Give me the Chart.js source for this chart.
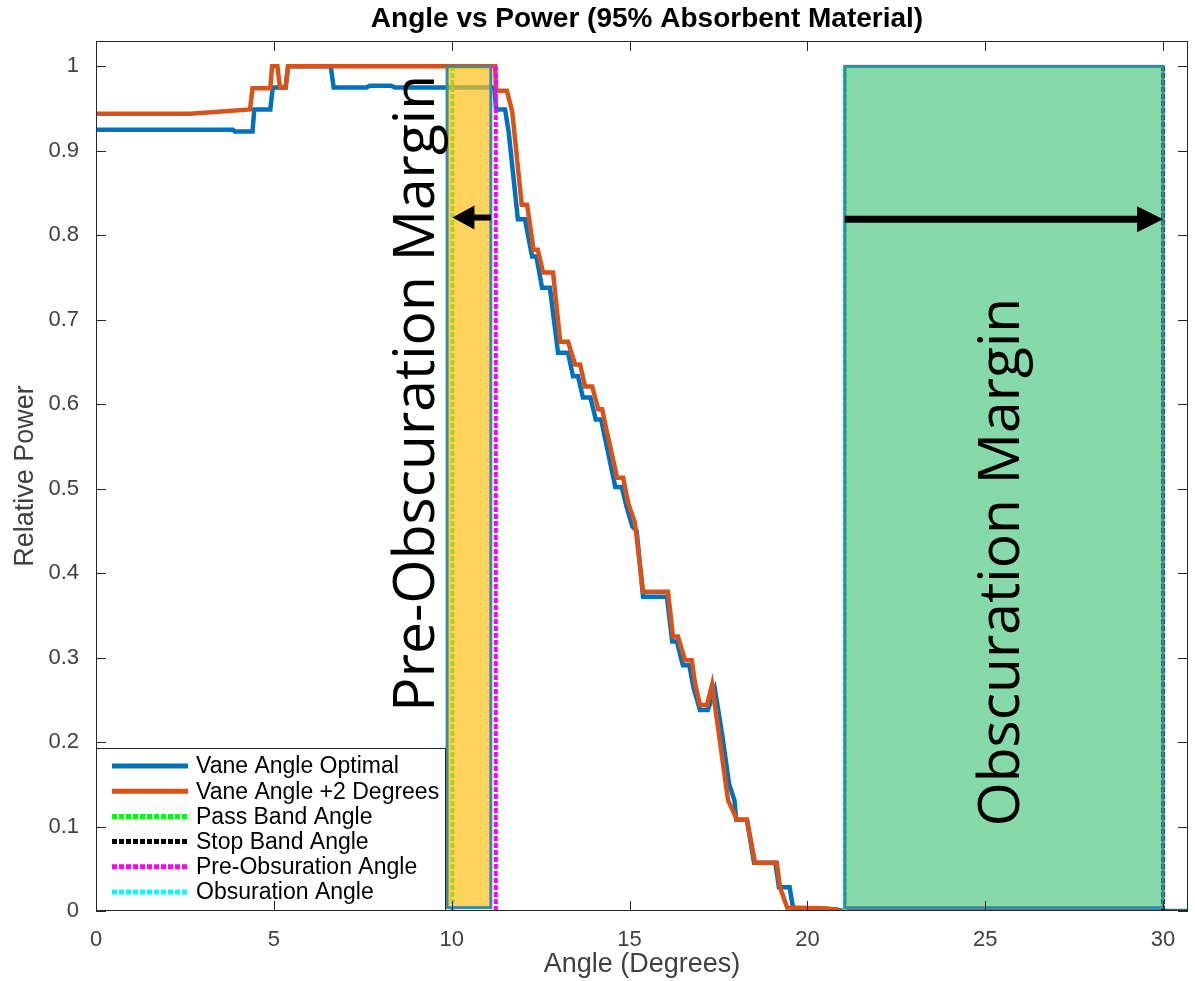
<!DOCTYPE html>
<html>
<head>
<meta charset="utf-8">
<script src="https://cdn.jsdelivr.net/npm/chart.js@4.4.0/dist/chart.umd.min.js"></script>
<style>
  html, body { margin: 0; padding: 0; background: #fff; }
  #chart { display: block; }
</style>
</head>
<body>
<canvas id="chart" width="1195" height="981"></canvas>
<script>
// vane angle optimal (blue)
var blueX = [0, 3.85, 3.9, 4.4, 4.45, 4.9, 4.97, 5.33, 5.4, 6.6, 6.68, 7.6, 7.7, 8.3, 8.4, 11.2, 11.25, 11.5, 11.6, 11.86,
  12.06, 12.26, 12.38, 12.54, 12.76, 12.99, 13.27, 13.41, 13.55, 13.69, 13.9, 14.05, 14.2, 14.6, 14.78, 14.92, 15.08, 15.2,
  15.38, 16.05, 16.2, 16.33, 16.5, 16.68, 16.8, 16.98, 17.2, 17.4, 17.6, 17.8, 17.95, 18.0, 18.3, 18.5, 19.1, 19.2, 19.5,
  19.6, 20.8, 21.0, 30.7];
var blueY = [0.925, 0.925, 0.923, 0.923, 0.949, 0.949, 0.975, 0.975, 1.0, 1.0, 0.975, 0.975, 0.977, 0.977, 0.975, 0.975,
  0.949, 0.949, 0.923, 0.819, 0.819, 0.775, 0.775, 0.738, 0.738, 0.661, 0.661, 0.633, 0.633, 0.608, 0.608, 0.582, 0.582,
  0.502, 0.502, 0.478, 0.455, 0.45, 0.372, 0.372, 0.319, 0.319, 0.291, 0.291, 0.264, 0.238, 0.238, 0.262, 0.21, 0.15,
  0.131, 0.108, 0.108, 0.057, 0.057, 0.028, 0.028, 0.003, 0.002, 0.0, 0.0];

// vane angle +2 degrees (orange)
var orangeX = [0, 2.64, 4.33, 4.4, 4.9, 4.95, 5.1, 5.17, 5.33, 5.4, 11.22, 11.25, 11.55, 11.7, 11.97, 12.12, 12.3, 12.42,
  12.57, 12.85, 13.05, 13.27, 13.47, 13.61, 13.75, 13.95, 14.12, 14.23, 14.37, 14.65, 14.82, 14.96, 15.15, 15.38, 16.08,
  16.22, 16.36, 16.56, 16.75, 16.84, 16.98, 17.18, 17.32, 17.77, 18.02, 18.3, 18.53, 19.14, 19.23, 19.43, 20.55, 21.0, 30];
var orangeY = [0.944, 0.944, 0.949, 0.974, 0.974, 1.0, 1.0, 0.975, 0.975, 1.0, 1.0, 0.971, 0.971, 0.947, 0.836, 0.836,
  0.783, 0.783, 0.756, 0.756, 0.674, 0.674, 0.647, 0.647, 0.621, 0.621, 0.594, 0.594, 0.566, 0.513, 0.513, 0.483, 0.46,
  0.378, 0.378, 0.325, 0.325, 0.297, 0.297, 0.27, 0.244, 0.244, 0.268, 0.131, 0.108, 0.108, 0.057, 0.057, 0.028, 0.004,
  0.003, 0.0, 0.0];

// marker angles (degrees)
var passBandAngle = 10.02;
var stopBandAngle = 30.0;
var preObsAngle = 11.24;
var obsAngle = 21.05;

// margin boxes [from, to] in degrees
var preMargin = [9.87, 11.1];
var obsMargin = [21.05, 30.0];

var xTicks = [0, 5, 10, 15, 20, 25, 30];
var yTicks = [0, 0.1, 0.2, 0.3, 0.4, 0.5, 0.6, 0.7, 0.8, 0.9, 1];

var FONT = "'Liberation Sans', Arial, sans-serif";

function pts(xs, ys) {
  return xs.map(function (x, i) { return { x: x, y: ys[i] }; });
}
function vline(x) {
  return [{ x: x, y: 0 }, { x: x, y: 1 }];
}

var datasets = [
  { label: "Vane Angle Optimal", data: pts(blueX, blueY), borderColor: "#0072BD", borderWidth: 4.5, order: 6 },
  { label: "Vane Angle +2 Degrees", data: pts(orangeX, orangeY), borderColor: "#D95319", borderWidth: 4.5, order: 5 },
  { label: "Pass Band Angle", data: vline(passBandAngle), borderColor: "#00FF00", borderWidth: 4, borderDash: [5, 2], order: 4 },
  { label: "Stop Band Angle", data: vline(stopBandAngle), borderColor: "#000000", borderWidth: 4, borderDash: [5, 2], order: 3 },
  { label: "Pre-Obsuration Angle", data: vline(preObsAngle), borderColor: "#FF00FF", borderWidth: 4, borderDash: [5, 2], order: 2 },
  { label: "Obsuration Angle", data: vline(obsAngle), borderColor: "#00FFFF", borderWidth: 4, borderDash: [5, 2], order: 1 }
];
datasets.forEach(function (d) {
  d.showLine = true;
  d.pointRadius = 0;
  d.fill = false;
  d.tension = 0;
});

// boxes, arrows, big labels, legend, frame, title
var overlay = {
  id: "overlay",
  afterDatasetsDraw: function (chart) {
    var ctx = chart.ctx, xs = chart.scales.x, ys = chart.scales.y, a = chart.chartArea;
    var px = function (v) { return xs.getPixelForValue(v); };
    var py = function (v) { return ys.getPixelForValue(v); };

    function box(r, fill) {
      var x0 = px(r[0]), x1 = px(r[1]), y0 = py(1.0), y1 = py(0.004);
      ctx.save();
      ctx.fillStyle = fill;
      ctx.fillRect(x0, y0, x1 - x0, y1 - y0);
      ctx.strokeStyle = "#3a8c9c";
      ctx.lineWidth = 3;
      ctx.strokeRect(x0, y0, x1 - x0, y1 - y0);
      ctx.restore();
    }
    box(preMargin, "rgba(252,192,26,0.7)");
    box(obsMargin, "rgba(14,180,82,0.5)");

    function arrow(xFrom, xTo, yv, lw, hl, hw) {
      var x0 = px(xFrom), x1 = px(xTo), y = py(yv), dir = x1 > x0 ? 1 : -1;
      ctx.save();
      ctx.strokeStyle = "#000";
      ctx.fillStyle = "#000";
      ctx.lineWidth = lw;
      ctx.beginPath();
      ctx.moveTo(x0, y);
      ctx.lineTo(x1 - dir * hl * 0.8, y);
      ctx.stroke();
      ctx.beginPath();
      ctx.moveTo(x1, y);
      ctx.lineTo(x1 - dir * hl, y - hw);
      ctx.lineTo(x1 - dir * hl, y + hw);
      ctx.closePath();
      ctx.fill();
      ctx.restore();
    }
    arrow(preMargin[1], passBandAngle, 0.821, 6, 22, 12);
    arrow(obsMargin[0], obsMargin[1], 0.819, 7, 26, 13);

    function vtext(txt, xv, yv, size) {
      ctx.save();
      ctx.translate(px(xv), py(yv));
      ctx.rotate(-Math.PI / 2);
      ctx.font = size + "px 'Open Sans', 'Noto Sans', sans-serif";
      ctx.fillStyle = "#000";
      ctx.textAlign = "center";
      ctx.textBaseline = "middle";
      ctx.fillText(txt, 0, 0);
      ctx.restore();
    }
    vtext("Pre-Obscuration Margin", 9.05, 0.613, 57);
    vtext("Obscuration Margin", 25.5, 0.413, 57);

    // legend, lower left corner of the axes
    var lx = a.left, lw = 350, lh = 163, ly = a.bottom - lh;
    ctx.save();
    ctx.fillStyle = "#fff";
    ctx.fillRect(lx, ly, lw, lh);
    ctx.strokeStyle = "#262626";
    ctx.lineWidth = 1;
    ctx.strokeRect(lx + 0.5, ly + 0.5, lw - 1, lh - 1);
    ctx.font = "23px " + FONT;
    ctx.textBaseline = "middle";
    datasets.forEach(function (d, i) {
      var y = ly + 18 + i * 25.2;
      ctx.strokeStyle = d.borderColor;
      ctx.lineWidth = 5;
      ctx.setLineDash(d.borderDash || []);
      ctx.beginPath();
      ctx.moveTo(lx + 16, y);
      ctx.lineTo(lx + 92, y);
      ctx.stroke();
      ctx.setLineDash([]);
      ctx.fillStyle = "#000";
      ctx.fillText(d.label, lx + 100, y + 1);
    });
    ctx.restore();
  },
  afterDraw: function (chart) {
    var ctx = chart.ctx, xs = chart.scales.x, ys = chart.scales.y, a = chart.chartArea;
    ctx.save();
    ctx.strokeStyle = "#262626";
    ctx.lineWidth = 1;
    ctx.strokeRect(a.left + 0.5, a.top + 0.5, a.right - a.left - 1, a.bottom - a.top - 1);
    var tl = 10;
    ctx.beginPath();
    xTicks.forEach(function (v) {
      var x = Math.round(xs.getPixelForValue(v)) + 0.5;
      ctx.moveTo(x, a.bottom); ctx.lineTo(x, a.bottom - tl);
      ctx.moveTo(x, a.top); ctx.lineTo(x, a.top + tl);
    });
    yTicks.forEach(function (v) {
      var y = Math.round(ys.getPixelForValue(v)) + 0.5;
      ctx.moveTo(a.left, y); ctx.lineTo(a.left + tl, y);
      ctx.moveTo(a.right, y); ctx.lineTo(a.right - tl, y);
    });
    ctx.stroke();
    ctx.fillStyle = "#000";
    ctx.font = "bold 28px " + FONT;
    ctx.textAlign = "center";
    ctx.textBaseline = "middle";
    ctx.fillText("Angle vs Power (95% Absorbent Material)", (a.left + a.right) / 2 + 5, 19);
    ctx.restore();
  }
};

var ctx = document.getElementById("chart");
var chart = new Chart(ctx, {
  type: "scatter",
  data: { datasets: datasets },
  options: {
    responsive: false,
    animation: false,
    devicePixelRatio: 1,
    layout: { padding: { top: 41, right: 7, left: 0, bottom: 0 } },
    plugins: { legend: { display: false }, tooltip: { enabled: false }, title: { display: false } },
    scales: {
      x: {
        type: "linear",
        min: 0,
        max: 30.7,
        afterBuildTicks: function (s) { s.ticks = xTicks.map(function (v) { return { value: v }; }); },
        afterFit: function (s) { s.height = 70; },
        grid: { display: false },
        border: { display: false },
        ticks: { color: "#404040", font: { size: 22, family: FONT }, padding: 8, maxRotation: 0, autoSkip: false },
        title: { display: true, text: "Angle (Degrees)", color: "#404040", font: { size: 27, family: FONT }, padding: { top: 0, bottom: 0 } }
      },
      y: {
        min: 0,
        max: 1.03,
        afterBuildTicks: function (s) { s.ticks = yTicks.map(function (v) { return { value: v }; }); },
        afterFit: function (s) { s.width = 96; },
        grid: { display: false },
        border: { display: false },
        ticks: {
          color: "#404040", font: { size: 22, family: FONT }, padding: 9, autoSkip: false,
          callback: function (v) { return String(+v.toFixed(1)); }
        },
        title: { display: true, text: "Relative Power", color: "#404040", font: { size: 27, family: FONT }, padding: { top: 9, bottom: 0 } }
      }
    }
  },
  plugins: [overlay]
});
</script>
</body>
</html>
